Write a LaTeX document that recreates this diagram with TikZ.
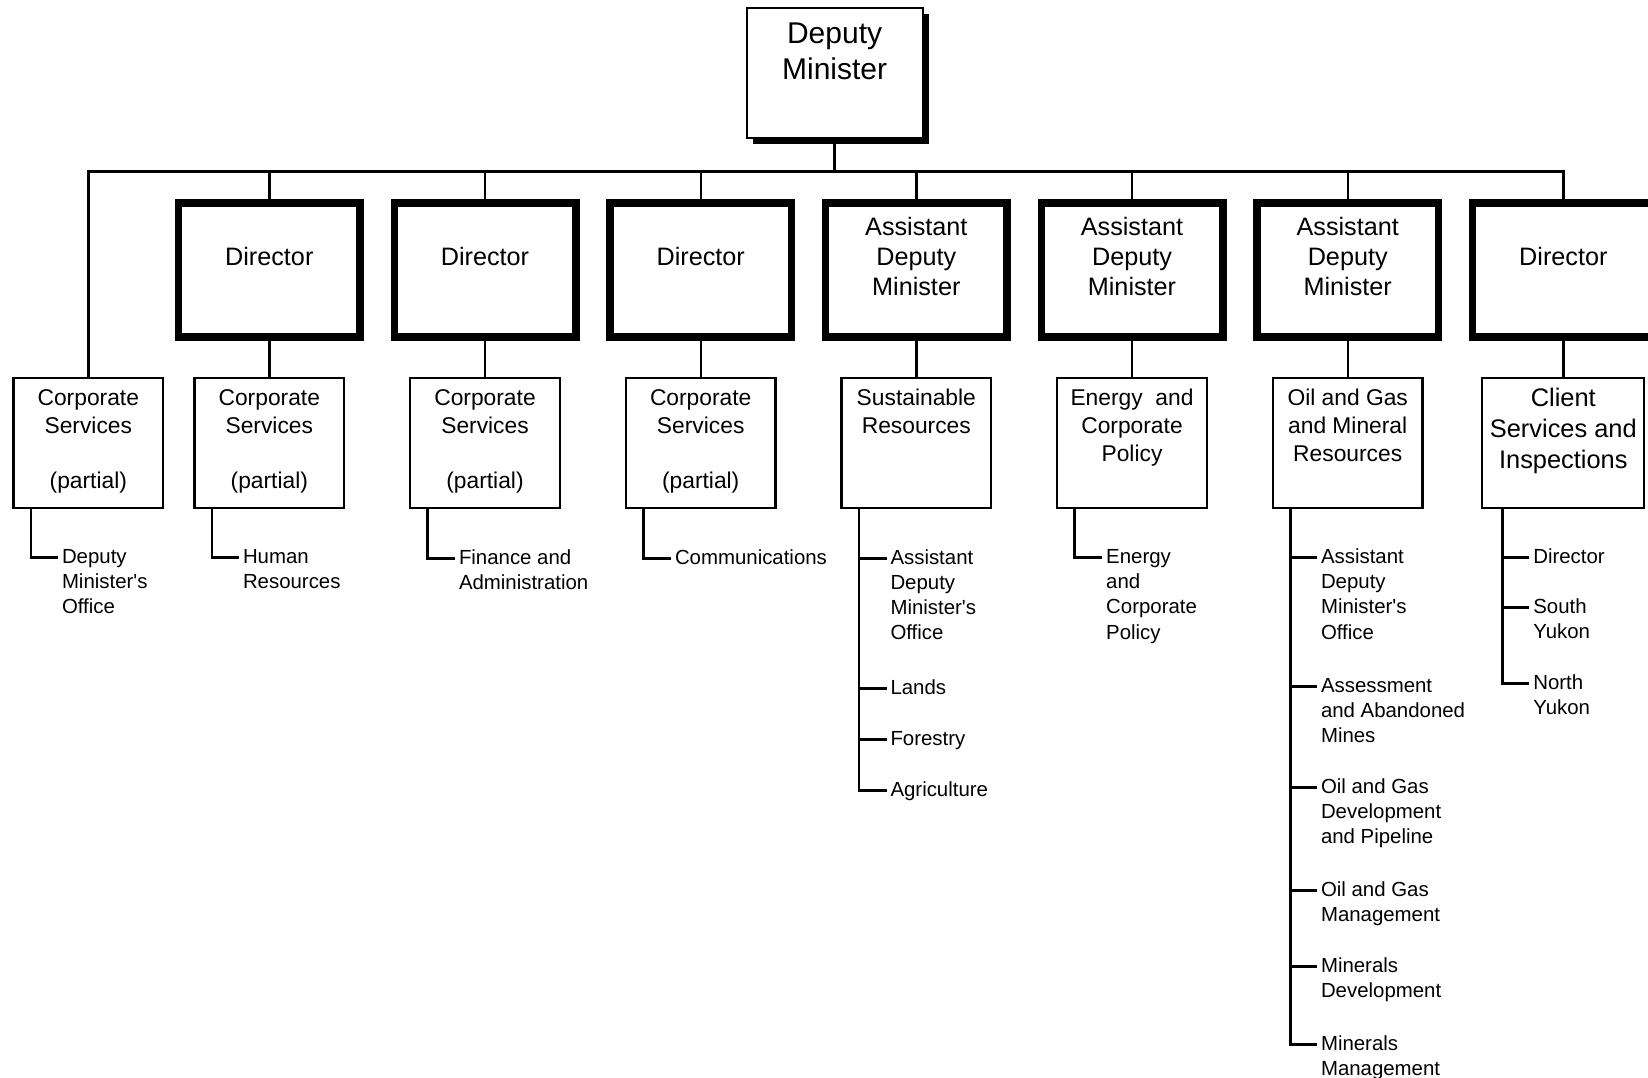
\documentclass[tikz,border=0pt]{standalone}
\usepackage{fontspec}
\setmainfont{Liberation Sans}
\usetikzlibrary{shadows}
\newcommand\orgc[1]{\begin{tabular}[t]{@{}c@{}}#1\end{tabular}}
\newcommand\orgl[1]{\begin{tabular}[t]{@{}l@{}}#1\end{tabular}}
\newcommand\apos{\textquotesingle}
\begin{document}
\begin{tikzpicture}[x=1pt,y=-1pt,
  conn/.style={line width=2.4pt},
  subln/.style={line width=2.8pt},
  dmbox/.style={draw,line width=2pt,fill=white,inner sep=0pt,outer sep=0pt,anchor=base,
    minimum width=176.2pt,text height=36.3pt,text depth=93.7pt,
    drop shadow={shadow xshift=6.5pt,shadow yshift=-6.5pt,fill=black,opacity=1},
    font=\fontsize{30}{36}\selectfont},
  hibox/.style={draw,line width=7.5pt,inner sep=0pt,outer sep=0pt,anchor=base,
    minimum width=181.5pt,font=\fontsize{25.2}{30}\selectfont},
  adm/.style={hibox,text height=32.2pt,text depth=102pt},
  dirbox/.style={hibox,text height=62.2pt,text depth=72pt},
  unit/.style={draw,line width=2.2pt,inner sep=0pt,outer sep=0pt,anchor=base,
    minimum width=149.5pt,text height=27.8pt,text depth=102.2pt,
    font=\fontsize{22.8}{27.8}\selectfont},
  client/.style={minimum width=162pt,text height=29pt,text depth=101pt,
    font=\fontsize{25.4}{31}\selectfont},
  item/.style={inner sep=0pt,outer sep=0pt,anchor=base west,
    font=\fontsize{20.4}{25.2}\selectfont}]

\useasboundingbox (0,0) rectangle (1648,1078);
\clip (0,0) rectangle (1648,1078);

% top
\node[dmbox] (dm) at (834.6,44) {\orgc{Deputy\\Minister}};
\coordinate (bar) at (0,171.5);

% second level
\node[dirbox] (d2) at (269.3,265) {Director};
\node[dirbox] (d3) at (485,265) {Director};
\node[dirbox] (d4) at (700.7,265) {Director};
\node[adm] (d5) at (916.3,235) {\orgc{Assistant\\Deputy\\Minister}};
\node[adm] (d6) at (1132,235) {\orgc{Assistant\\Deputy\\Minister}};
\node[adm] (d7) at (1347.7,235) {\orgc{Assistant\\Deputy\\Minister}};
\node[dirbox] (d8) at (1563.3,265) {Director};

% third level
\node[unit] (u1) at (88.3,405.5) {\orgc{Corporate\\Services\\\mbox{}\\(partial)}};
\node[unit] (u2) at (269.3,405.5) {\orgc{Corporate\\Services\\\mbox{}\\(partial)}};
\node[unit] (u3) at (485,405.5) {\orgc{Corporate\\Services\\\mbox{}\\(partial)}};
\node[unit] (u4) at (700.7,405.5) {\orgc{Corporate\\Services\\\mbox{}\\(partial)}};
\node[unit] (u5) at (916.3,405.5) {\orgc{Sustainable\\Resources}};
\node[unit] (u6) at (1132,405.5) {\orgc{Energy\ \ and\\Corporate\\Policy}};
\node[unit] (u7) at (1347.7,405.5) {\orgc{Oil and Gas\\and Mineral\\Resources}};
\node[unit,client] (u8) at (1563.3,406.7) {\orgc{Client\\Services and\\Inspections}};

% connectors
\draw[conn] (u1.north) -- (u1.north |- bar) -- (d8.north |- bar) -- (d8.north);
\draw[conn] (dm.south) -- (dm.south |- bar);
\foreach \i in {2,...,7} \draw[conn] (d\i.north) -- (d\i.north |- bar);
\foreach \i in {2,...,8} \draw[conn] (d\i.south) -- (u\i.north);

% sub-item labels
\node[item] (s1a) at (62,563) {\orgl{Deputy\\Minister\apos s\\Office}};
\node[item] (s2a) at (243,563) {\orgl{Human\\Resources}};
\node[item] (s3a) at (459,564) {\orgl{Finance and\\Administration}};
\node[item] (s4a) at (675,564) {\orgl{Communications}};
\node[item] (s5a) at (890.5,564) {\orgl{Assistant\\Deputy\\Minister\apos s\\Office}};
\node[item] (s5b) at (890.5,694) {\orgl{Lands}};
\node[item] (s5c) at (890.5,745) {\orgl{Forestry}};
\node[item] (s5d) at (890.5,796.5) {\orgl{Agriculture}};
\node[item] (s6a) at (1106.2,563.5) {\orgl{Energy\\and\\Corporate\\Policy}};
\node[item] (s7a) at (1321,563.5) {\orgl{Assistant\\Deputy\\Minister\apos s\\Office}};
\node[item] (s7b) at (1321,692) {\orgl{Assessment\\and Abandoned\\Mines}};
\node[item] (s7c) at (1321,793) {\orgl{Oil and Gas\\Development\\and Pipeline}};
\node[item] (s7d) at (1321,896.5) {\orgl{Oil and Gas\\Management}};
\node[item] (s7e) at (1321,972.5) {\orgl{Minerals\\Development}};
\node[item] (s7f) at (1321,1050) {\orgl{Minerals\\Management}};
\node[item] (s8a) at (1533.3,563) {\orgl{Director}};
\node[item] (s8b) at (1533.3,613.5) {\orgl{South\\Yukon}};
\node[item] (s8c) at (1533.3,689) {\orgl{North\\Yukon}};

% vertical stems
\foreach \i in {1,...,7} \coordinate (v\i) at ([xshift=17.5pt]u\i.south west);
\coordinate (v8) at ([xshift=20pt]u8.south west);

% tick points
\foreach \n in {s1a,s2a,s3a,s4a,s5a,s5b,s5c,s5d,s6a,s7a,s7b,s7c,s7d,s7e,s7f,s8a,s8b,s8c}
  \coordinate (t\n) at ([xshift=-4pt,yshift=5.8pt]\n.base west);

% branches
\draw[subln] (v1) |- (ts1a);
\draw[subln] (v2) |- (ts2a);
\draw[subln] (v3) |- (ts3a);
\draw[subln] (v4) |- (ts4a);
\draw[subln] (v5) |- (ts5d);
\foreach \n in {s5a,s5b,s5c} \draw[subln] (v5 |- t\n) -- (t\n);
\draw[subln] (v6) |- (ts6a);
\draw[subln] (v7) |- (ts7f);
\foreach \n in {s7a,s7b,s7c,s7d,s7e} \draw[subln] (v7 |- t\n) -- (t\n);
\draw[subln] (v8) |- (ts8c);
\foreach \n in {s8a,s8b} \draw[subln] (v8 |- t\n) -- (t\n);
\end{tikzpicture}
\end{document}
